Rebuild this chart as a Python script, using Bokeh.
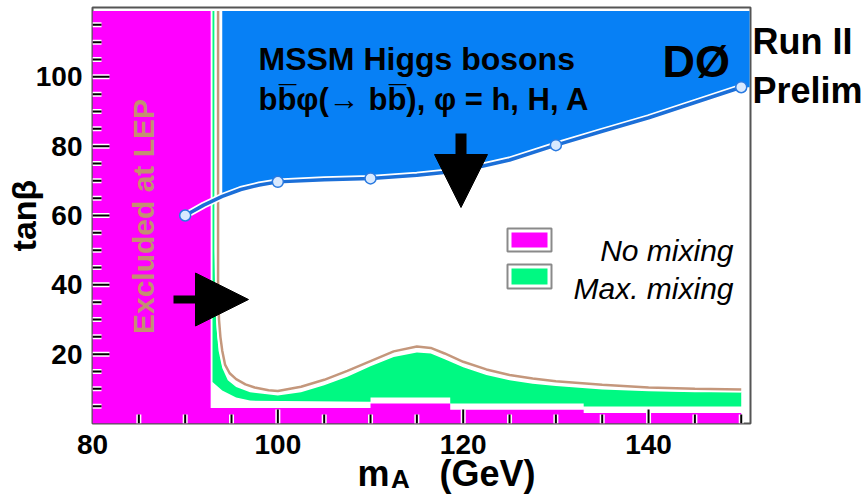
import math
from bokeh.plotting import figure
from bokeh.models import Range1d, FixedTicker, Label, Arrow, NormalHead, LinearAxis
from bokeh.embed import file_html
from bokeh.resources import INLINE

# ---------------- data ----------------
x_major_ticks = [80, 100, 120, 140]
x_minor_ticks = [85, 90, 95, 105, 110, 115, 125, 130, 135, 145, 150]
y_major_ticks = [20, 40, 60, 80, 100]
y_minor_ticks = [5, 10, 15, 25, 30, 35, 45, 50, 55, 65, 70, 75, 85, 90, 95, 105, 110, 115]

# D0 Run II exclusion (blue curve)
tev_x = [90, 92, 94, 96, 98, 100, 105, 110, 115, 120, 125, 130, 135, 140, 145, 150]
tev_y = [60, 63, 65.5, 67.5, 68.8, 69.7, 70.3, 70.7, 71.6, 73.0, 76.0, 80.3, 84.3, 88.2, 92.6, 97.0]
tev_pts_x = [90, 100, 110, 120, 130, 150]
tev_pts_y = [60, 69.7, 70.7, 73.0, 80.3, 97.0]
tev_region_right = 150.9
tev_region_top = 119

# LEP excluded, no mixing (magenta)
nomix_x = [80, 80, 92.75, 92.75, 110, 110, 118.6, 118.6, 133, 133, 150, 150]
nomix_y = [0, 119, 119, 4.5, 4.5, 5.8, 5.8, 4.0, 4.0, 3.0, 3.0, 0]

# LEP excluded, max. mixing (green)
maxmix_top_x = [92.95, 93.15, 93.15, 93.25, 93.4, 93.6, 94.0, 94.6, 95.5, 97, 100, 102.5,
                105, 107.5, 110, 112.5, 115, 116.5, 118, 120, 122.5, 125, 127.5, 130,
                135, 140, 145, 150]
maxmix_top_y = [119, 119, 50, 35, 27, 21, 16, 12.5, 10.5, 9.0, 8.1, 9.0,
                11.0, 13.5, 16.5, 19.2, 20.5, 20.2, 18.5, 16.2, 14.0, 12.5, 11.5, 10.8,
                9.8, 9.3, 9.0, 9.0]
maxmix_bot_x = [150, 133, 133, 118.6, 118.6, 110, 110, 97, 95.5, 94, 92.95]
maxmix_bot_y = [4.9, 4.9, 5.8, 5.8, 7.5, 7.5, 6.3, 6.6, 7.5, 9.5, 12.0]

# LEP boundary (tan line)
lep_x = [93.55, 93.55, 93.65, 93.8, 94.0, 94.3, 94.8, 95.5, 96.5, 97.5, 99, 100, 102.5,
         105, 107.5, 110, 112.5, 115, 116.5, 118, 120, 122.5, 125, 127.5, 130, 135,
         140, 145, 150]
lep_y = [119, 40, 30, 25, 21, 17, 14.5, 12.8, 11.3, 10.4, 9.6, 9.4, 10.6,
         12.6, 15.2, 18.0, 20.8, 22.2, 21.8, 20.2, 17.8, 15.6, 14.0, 13.0, 12.2, 11.2,
         10.4, 10.0, 9.8]

# ---------------- styling / geometry ----------------
X0, X1, Y0, Y1 = 80, 151, 0, 120
W, H = 868, 499
FL, FT, FW, FH = 92, 7, 658, 416   # frame in canvas px

def dx(px):  # canvas px -> data x
    return X0 + (px - FL) * (X1 - X0) / FW

def dy(py):  # canvas px -> data y
    return Y0 + (FT + FH - py) * (Y1 - Y0) / FH

def len_x(px):  # px length -> data length along x
    return px * (X1 - X0) / FW

def len_y(px):
    return px * (Y1 - Y0) / FH

FONT = "Liberation Sans"
MAGENTA = "#ff00ff"
GREEN = "#00f982"
BLUE_FILL = "#0780f5"
BLUE_LINE = "#1b6fd8"
TAN = "#c4977c"
LEP_TEXT = "#c28f72"

p = figure(width=W, height=H, x_range=Range1d(X0, X1), y_range=Range1d(Y0, Y1),
           output_backend="svg", toolbar_location=None,
           min_border_left=FL, min_border_top=FT,
           min_border_right=W - FL - FW, min_border_bottom=H - FT - FH)
p.background_fill_color = "white"
p.border_fill_color = "white"
p.outline_line_color = "#555555"
p.outline_line_width = 2
p.grid.visible = False

p.xaxis.ticker = FixedTicker(ticks=x_major_ticks, minor_ticks=x_minor_ticks)
p.yaxis.ticker = FixedTicker(ticks=y_major_ticks, minor_ticks=y_minor_ticks)
for ax in (p.xaxis, p.yaxis):
    ax.axis_line_color = None
    ax.major_tick_in = 0
    ax.minor_tick_in = 0
    ax.major_tick_out = 0
    ax.minor_tick_out = 0
    ax.major_tick_line_color = None
    ax.minor_tick_line_color = None
    ax.major_label_text_font = FONT
    ax.major_label_text_font_style = "bold"
    ax.major_label_text_font_size = "28px"
    ax.major_label_text_color = "black"
p.xaxis.major_label_standoff = 11
p.yaxis.major_label_standoff = 10

# y axis title
p.yaxis.axis_label = "tan\u03b2"
p.yaxis.axis_label_text_font = FONT
p.yaxis.axis_label_text_font_style = "bold"
p.yaxis.axis_label_text_font_size = "34px"
p.yaxis.axis_label_text_color = "black"
p.yaxis.axis_label_standoff = -10

def text_axis(place, ticks, labels, size, standoff):
    ax = LinearAxis(ticker=FixedTicker(ticks=ticks, minor_ticks=[]),
                    major_label_overrides=dict(zip(ticks, labels)))
    ax.axis_line_color = None
    ax.major_tick_line_color = None
    ax.minor_tick_line_color = None
    ax.major_tick_in = 0
    ax.major_tick_out = 0
    ax.minor_tick_in = 0
    ax.minor_tick_out = 0
    ax.major_label_text_font = FONT
    ax.major_label_text_font_style = "bold"
    ax.major_label_text_font_size = size
    ax.major_label_text_color = "black"
    ax.major_label_standoff = standoff
    p.add_layout(ax, place)

# x axis title  m_A (GeV)
text_axis("below", [round(dx(373), 2), round(dx(487), 2)], ["m", "(GeV)"], "36px", -4)
text_axis("below", [round(dx(400), 2)], ["A"], "26px", -33)
# Run II Preliminary
text_axis("right", [round(dy(41.5), 2), round(dy(90), 2)], ["Run II", "Prelim"], "36px", 2)

# regions
ex_x = tev_x[2:] + [tev_region_right, tev_region_right, tev_x[2]]
ex_y = tev_y[2:] + [tev_y[-1], tev_region_top, tev_region_top]
p.patch(ex_x, ex_y, fill_color=BLUE_FILL, line_color=None)
p.patch(nomix_x, nomix_y, fill_color=MAGENTA, line_color=None)
p.patch(maxmix_top_x + maxmix_bot_x, maxmix_top_y + maxmix_bot_y,
        fill_color=GREEN, line_color=None)

# LEP boundary line
p.line(lep_x, lep_y, line_color="white", line_width=6)
p.line(lep_x, lep_y, line_color=TAN, line_width=2.5)

# Tevatron curve
p.line(tev_x, tev_y, line_color="white", line_width=7)
p.line(tev_x, tev_y, line_color=BLUE_LINE, line_width=3.5)
p.scatter(tev_pts_x, tev_pts_y, marker="circle", size=11, fill_color="#d8e9ff",
          line_color="#2a7ae0", line_width=1.5)

# inward tick marks (white-haloed, from the tick arrays)
xt = x_major_ticks[1:] + x_minor_ticks
xt_len = [len_y(14)] * (len(x_major_ticks) - 1) + [len_y(9)] * len(x_minor_ticks)
yt = y_major_ticks + y_minor_ticks
yt_len = [len_x(17)] * len(y_major_ticks) + [len_x(9)] * len(y_minor_ticks)
for col, w in (("white", 5), ("black", 2)):
    p.segment(x0=xt, y0=[Y0] * len(xt), x1=xt, y1=xt_len, line_color=col, line_width=w)
    p.segment(x0=[X0] * len(yt), y0=yt, x1=[X0 + v for v in yt_len], y1=yt,
              line_color=col, line_width=w)

# legend swatches
for top, bot, col in ((228, 251, MAGENTA), (264, 288, GREEN)):
    p.quad(left=dx(507), right=dx(551), top=dy(top), bottom=dy(bot),
           fill_color="white", line_color="#8a8a8a", line_width=2)
    p.quad(left=dx(511), right=dx(547), top=dy(top + 4), bottom=dy(bot - 4),
           fill_color=col, line_color=None)

def lab(text, px, py, size, style="bold", color="black", align="left",
        baseline="alphabetic", angle=0.0):
    p.add_layout(Label(x=dx(px), y=dy(py), text=text, text_font=FONT,
                       text_font_size=size, text_font_style=style,
                       text_color=color, text_align=align,
                       text_baseline=baseline, angle=angle))

lab("No mixing", 733, 250, "30px", style="italic", align="right")
lab("Max. mixing", 733, 288, "30px", style="italic", align="right")

lab("MSSM Higgs bosons", 258, 58, "32px")
lab("bb\u0305\u03c6(\u2192 bb\u0305), \u03c6 = h, H, A", 258, 99, "31px")
lab("D\u00d8", 662, 61, "45px")
lab("Excluded at LEP", 143, 216, "30px", color=LEP_TEXT, align="center",
    baseline="middle", angle=math.pi / 2)

# arrows
p.add_layout(Arrow(end=NormalHead(size=53, fill_color="black", line_color="black"),
                   x_start=dx(173), y_start=dy(299), x_end=dx(248), y_end=dy(299),
                   line_width=8, line_color="black"))
p.add_layout(Arrow(end=NormalHead(size=53, fill_color="black", line_color="black"),
                   x_start=dx(460.5), y_start=dy(133), x_end=dx(460.5), y_end=dy(207),
                   line_width=11, line_color="black"))

open("out.html", "w").write(file_html(p, INLINE))
